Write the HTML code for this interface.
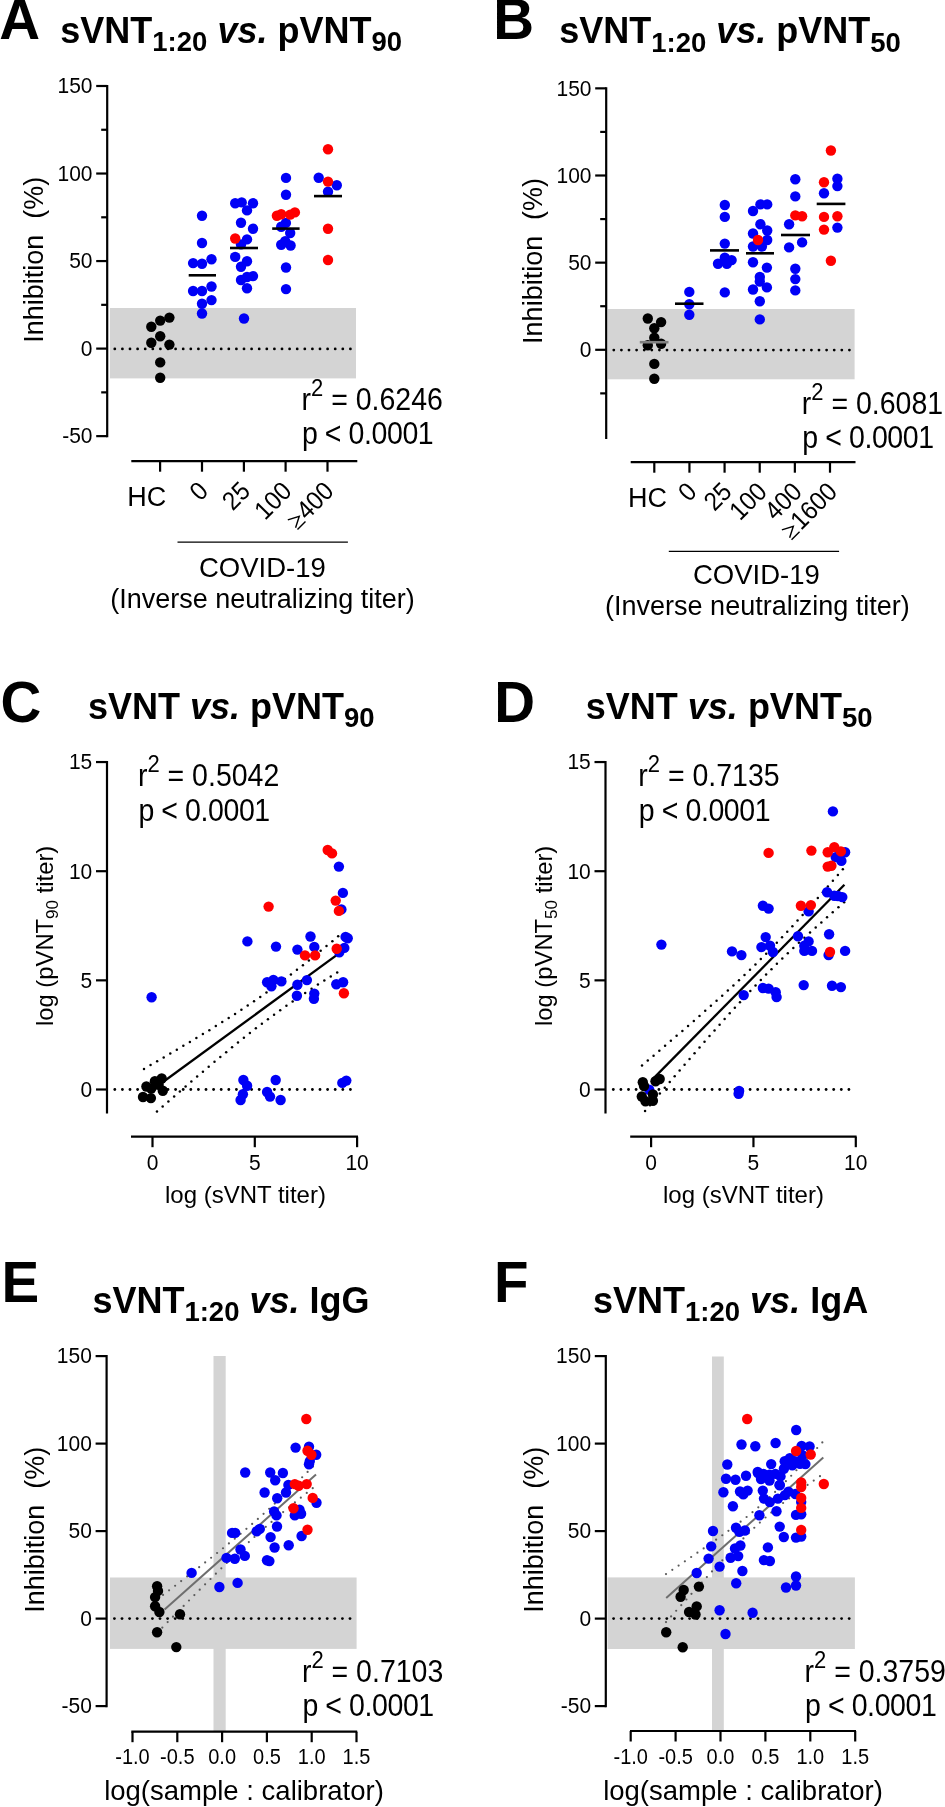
<!DOCTYPE html>
<html><head><meta charset="utf-8"><style>
html,body{margin:0;padding:0;background:#fff;}
svg{display:block;will-change:transform;}
svg text{font-family:"Liberation Sans", sans-serif;fill:#000;}
</style></head><body>
<svg width="945" height="1807" viewBox="0 0 945 1807">
<rect x="0" y="0" width="945" height="1807" fill="#fff"/>
<text x="-0.8" y="38.9" font-size="56.5" font-weight="bold" font-style="normal" text-anchor="start" >A</text>
<text x="60.3" y="43.1" font-size="36" font-weight="bold" style="white-space:pre"><tspan dy="0">sVNT</tspan><tspan font-size="27.5" dy="8.2">1:20</tspan><tspan dy="-8.2"> </tspan><tspan font-style="italic" dy="0">vs.</tspan><tspan dy="0"> pVNT</tspan><tspan font-size="27.5" dy="8.2">90</tspan></text>
<rect x="110" y="308" width="246" height="70.4" fill="#d4d4d4"/>
<g fill="#000"><circle cx="114.80" cy="348.90" r="1.4"/><circle cx="122.40" cy="348.90" r="1.4"/><circle cx="130.00" cy="348.90" r="1.4"/><circle cx="137.60" cy="348.90" r="1.4"/><circle cx="145.20" cy="348.90" r="1.4"/><circle cx="152.80" cy="348.90" r="1.4"/><circle cx="160.40" cy="348.90" r="1.4"/><circle cx="168.00" cy="348.90" r="1.4"/><circle cx="175.60" cy="348.90" r="1.4"/><circle cx="183.20" cy="348.90" r="1.4"/><circle cx="190.80" cy="348.90" r="1.4"/><circle cx="198.40" cy="348.90" r="1.4"/><circle cx="206.00" cy="348.90" r="1.4"/><circle cx="213.60" cy="348.90" r="1.4"/><circle cx="221.20" cy="348.90" r="1.4"/><circle cx="228.80" cy="348.90" r="1.4"/><circle cx="236.40" cy="348.90" r="1.4"/><circle cx="244.00" cy="348.90" r="1.4"/><circle cx="251.60" cy="348.90" r="1.4"/><circle cx="259.20" cy="348.90" r="1.4"/><circle cx="266.80" cy="348.90" r="1.4"/><circle cx="274.40" cy="348.90" r="1.4"/><circle cx="282.00" cy="348.90" r="1.4"/><circle cx="289.60" cy="348.90" r="1.4"/><circle cx="297.20" cy="348.90" r="1.4"/><circle cx="304.80" cy="348.90" r="1.4"/><circle cx="312.40" cy="348.90" r="1.4"/><circle cx="320.00" cy="348.90" r="1.4"/><circle cx="327.60" cy="348.90" r="1.4"/><circle cx="335.20" cy="348.90" r="1.4"/><circle cx="342.80" cy="348.90" r="1.4"/><circle cx="350.40" cy="348.90" r="1.4"/></g>
<line x1="107.2" y1="84.89500000000007" x2="107.2" y2="437.235" stroke="#000" stroke-width="2.2" />
<line x1="96.2" y1="85.99500000000006" x2="107.2" y2="85.99500000000006" stroke="#000" stroke-width="2.2" />
<text transform="translate(92.50,93.30) scale(1,1.08)" font-size="21" font-weight="normal" font-style="normal" text-anchor="end" >150</text>
<line x1="96.2" y1="173.53000000000003" x2="107.2" y2="173.53000000000003" stroke="#000" stroke-width="2.2" />
<text transform="translate(92.50,180.83) scale(1,1.08)" font-size="21" font-weight="normal" font-style="normal" text-anchor="end" >100</text>
<line x1="96.2" y1="261.06500000000005" x2="107.2" y2="261.06500000000005" stroke="#000" stroke-width="2.2" />
<text transform="translate(92.50,268.37) scale(1,1.08)" font-size="21" font-weight="normal" font-style="normal" text-anchor="end" >50</text>
<line x1="96.2" y1="348.6" x2="107.2" y2="348.6" stroke="#000" stroke-width="2.2" />
<text transform="translate(92.50,355.90) scale(1,1.08)" font-size="21" font-weight="normal" font-style="normal" text-anchor="end" >0</text>
<line x1="96.2" y1="436.135" x2="107.2" y2="436.135" stroke="#000" stroke-width="2.2" />
<text transform="translate(92.50,443.44) scale(1,1.08)" font-size="21" font-weight="normal" font-style="normal" text-anchor="end" >-50</text>
<line x1="101.2" y1="129.76250000000005" x2="107.2" y2="129.76250000000005" stroke="#000" stroke-width="2.2" />
<line x1="101.2" y1="217.29750000000004" x2="107.2" y2="217.29750000000004" stroke="#000" stroke-width="2.2" />
<line x1="101.2" y1="304.83250000000004" x2="107.2" y2="304.83250000000004" stroke="#000" stroke-width="2.2" />
<line x1="101.2" y1="392.3675" x2="107.2" y2="392.3675" stroke="#000" stroke-width="2.2" />
<g transform="translate(42.7,342.7) rotate(-90)">
<text x="0" y="0" font-size="27">Inhibition</text>
<text x="124" y="0" font-size="27">(%)</text>
</g>
<line x1="131.3" y1="461.2" x2="357.3" y2="461.2" stroke="#000" stroke-width="2.2" />
<line x1="160.1" y1="461.2" x2="160.1" y2="471.7" stroke="#000" stroke-width="2.2" />
<line x1="202" y1="461.2" x2="202" y2="471.7" stroke="#000" stroke-width="2.2" />
<line x1="243.9" y1="461.2" x2="243.9" y2="471.7" stroke="#000" stroke-width="2.2" />
<line x1="285.6" y1="461.2" x2="285.6" y2="471.7" stroke="#000" stroke-width="2.2" />
<line x1="327.5" y1="461.2" x2="327.5" y2="471.7" stroke="#000" stroke-width="2.2" />
<text x="127.3" y="506.4" font-size="27" font-weight="normal" font-style="normal" text-anchor="start" >HC</text>
<text transform="translate(209.7,492.6) rotate(-45) scale(1,1.08)" font-size="24" text-anchor="end">0</text>
<text transform="translate(251.6,492.6) rotate(-45) scale(1,1.08)" font-size="24" text-anchor="end">25</text>
<text transform="translate(293.3,492.6) rotate(-45) scale(1,1.08)" font-size="24" text-anchor="end">100</text>
<g transform="translate(335.2,492.6) rotate(-45)"><text transform="scale(1,1.08)" font-size="24" text-anchor="end">400</text><path d="M-52.83,-14.2 L-42.13,-8.7 L-52.83,-3.2 M-52.83,-0.5 L-41.53,-0.5" fill="none" stroke="#000" stroke-width="1.4"/></g>
<line x1="177.5" y1="542.2" x2="347.9" y2="542.2" stroke="#000" stroke-width="1.3" />
<text x="262.4" y="577.1" font-size="27.5" font-weight="normal" font-style="normal" text-anchor="middle" >COVID-19</text>
<text x="262.5" y="608.1" font-size="27" font-weight="normal" font-style="normal" text-anchor="middle" >(Inverse neutralizing titer)</text>
<text transform="translate(301.50,410.30) scale(1,1.08)" font-size="28.5" style="white-space:pre">r<tspan font-size="22" dy="-13">2</tspan><tspan dy="13"> = 0.6246</tspan></text>
<text transform="translate(301.90,443.70) scale(1,1.08)" font-size="28.5" textLength="131.8">p &lt; 0.0001</text>
<circle cx="202" cy="215.7" r="5.2" fill="#0000f6"/>
<circle cx="202" cy="243" r="5.2" fill="#0000f6"/>
<circle cx="193.1" cy="263.1" r="5.2" fill="#0000f6"/>
<circle cx="202" cy="263.7" r="5.2" fill="#0000f6"/>
<circle cx="211.5" cy="259.3" r="5.2" fill="#0000f6"/>
<circle cx="193.1" cy="291" r="5.2" fill="#0000f6"/>
<circle cx="202" cy="291" r="5.2" fill="#0000f6"/>
<circle cx="211.5" cy="286.5" r="5.2" fill="#0000f6"/>
<circle cx="202" cy="303.7" r="5.2" fill="#0000f6"/>
<circle cx="211.5" cy="300.1" r="5.2" fill="#0000f6"/>
<circle cx="202" cy="313.5" r="5.2" fill="#0000f6"/>
<circle cx="235.2" cy="203.3" r="5.2" fill="#0000f6"/>
<circle cx="241.7" cy="202.4" r="5.2" fill="#0000f6"/>
<circle cx="253" cy="203.3" r="5.2" fill="#0000f6"/>
<circle cx="247" cy="210.4" r="5.2" fill="#0000f6"/>
<circle cx="241" cy="222.8" r="5.2" fill="#0000f6"/>
<circle cx="253" cy="228.7" r="5.2" fill="#0000f6"/>
<circle cx="247" cy="239.4" r="5.2" fill="#0000f6"/>
<circle cx="241" cy="244.4" r="5.2" fill="#0000f6"/>
<circle cx="235.2" cy="256.9" r="5.2" fill="#0000f6"/>
<circle cx="247" cy="261.3" r="5.2" fill="#0000f6"/>
<circle cx="241" cy="266.7" r="5.2" fill="#0000f6"/>
<circle cx="241" cy="280" r="5.2" fill="#0000f6"/>
<circle cx="247" cy="277" r="5.2" fill="#0000f6"/>
<circle cx="253" cy="276.1" r="5.2" fill="#0000f6"/>
<circle cx="247" cy="288.3" r="5.2" fill="#0000f6"/>
<circle cx="244" cy="318.5" r="5.2" fill="#0000f6"/>
<circle cx="286" cy="177.9" r="5.2" fill="#0000f6"/>
<circle cx="286" cy="194.8" r="5.2" fill="#0000f6"/>
<circle cx="285.9" cy="222.9" r="5.2" fill="#0000f6"/>
<circle cx="281.2" cy="226.8" r="5.2" fill="#0000f6"/>
<circle cx="290.2" cy="233" r="5.2" fill="#0000f6"/>
<circle cx="285.2" cy="241.2" r="5.2" fill="#0000f6"/>
<circle cx="281.2" cy="244.8" r="5.2" fill="#0000f6"/>
<circle cx="290.6" cy="245.5" r="5.2" fill="#0000f6"/>
<circle cx="286" cy="267.5" r="5.2" fill="#0000f6"/>
<circle cx="286" cy="289.1" r="5.2" fill="#0000f6"/>
<circle cx="318.7" cy="177.8" r="5.2" fill="#0000f6"/>
<circle cx="336.8" cy="185.2" r="5.2" fill="#0000f6"/>
<circle cx="328" cy="191.7" r="5.2" fill="#0000f6"/>
<circle cx="235.2" cy="238.5" r="5.2" fill="#ff0000"/>
<circle cx="276.9" cy="215.7" r="5.2" fill="#ff0000"/>
<circle cx="281.2" cy="214.2" r="5.2" fill="#ff0000"/>
<circle cx="290.2" cy="214.6" r="5.2" fill="#ff0000"/>
<circle cx="294.9" cy="212.4" r="5.2" fill="#ff0000"/>
<circle cx="328" cy="149.3" r="5.2" fill="#ff0000"/>
<circle cx="328" cy="181.6" r="5.2" fill="#ff0000"/>
<circle cx="328" cy="228.7" r="5.2" fill="#ff0000"/>
<circle cx="328" cy="260" r="5.2" fill="#ff0000"/>
<circle cx="169.4" cy="317.6" r="5.2" fill="#000000"/>
<circle cx="160.2" cy="320.6" r="5.2" fill="#000000"/>
<circle cx="151.3" cy="326.8" r="5.2" fill="#000000"/>
<circle cx="160.2" cy="336.3" r="5.2" fill="#000000"/>
<circle cx="151.3" cy="342.8" r="5.2" fill="#000000"/>
<circle cx="169.4" cy="344.6" r="5.2" fill="#000000"/>
<circle cx="160.2" cy="362.4" r="5.2" fill="#000000"/>
<circle cx="160.2" cy="377.8" r="5.2" fill="#000000"/>
<line x1="188.7" y1="275.3" x2="216" y2="275.3" stroke="#000" stroke-width="2.6" />
<line x1="230" y1="248" x2="258" y2="248" stroke="#000" stroke-width="2.6" />
<line x1="272.2" y1="228.6" x2="299.6" y2="228.6" stroke="#000" stroke-width="2.6" />
<line x1="314" y1="196.1" x2="342" y2="196.1" stroke="#000" stroke-width="2.6" />
<text x="493.3" y="38.9" font-size="56.5" font-weight="bold" font-style="normal" text-anchor="start" >B</text>
<text x="559.2" y="43.3" font-size="36" font-weight="bold" style="white-space:pre"><tspan dy="0">sVNT</tspan><tspan font-size="27.5" dy="8.2">1:20</tspan><tspan dy="-8.2"> </tspan><tspan font-style="italic" dy="0">vs.</tspan><tspan dy="0"> pVNT</tspan><tspan font-size="27.5" dy="8.2">50</tspan></text>
<rect x="607.8" y="309" width="246.8" height="70.3" fill="#d4d4d4"/>
<g fill="#000"><circle cx="613.80" cy="350.10" r="1.4"/><circle cx="621.40" cy="350.10" r="1.4"/><circle cx="629.00" cy="350.10" r="1.4"/><circle cx="636.60" cy="350.10" r="1.4"/><circle cx="644.20" cy="350.10" r="1.4"/><circle cx="651.80" cy="350.10" r="1.4"/><circle cx="659.40" cy="350.10" r="1.4"/><circle cx="667.00" cy="350.10" r="1.4"/><circle cx="674.60" cy="350.10" r="1.4"/><circle cx="682.20" cy="350.10" r="1.4"/><circle cx="689.80" cy="350.10" r="1.4"/><circle cx="697.40" cy="350.10" r="1.4"/><circle cx="705.00" cy="350.10" r="1.4"/><circle cx="712.60" cy="350.10" r="1.4"/><circle cx="720.20" cy="350.10" r="1.4"/><circle cx="727.80" cy="350.10" r="1.4"/><circle cx="735.40" cy="350.10" r="1.4"/><circle cx="743.00" cy="350.10" r="1.4"/><circle cx="750.60" cy="350.10" r="1.4"/><circle cx="758.20" cy="350.10" r="1.4"/><circle cx="765.80" cy="350.10" r="1.4"/><circle cx="773.40" cy="350.10" r="1.4"/><circle cx="781.00" cy="350.10" r="1.4"/><circle cx="788.60" cy="350.10" r="1.4"/><circle cx="796.20" cy="350.10" r="1.4"/><circle cx="803.80" cy="350.10" r="1.4"/><circle cx="811.40" cy="350.10" r="1.4"/><circle cx="819.00" cy="350.10" r="1.4"/><circle cx="826.60" cy="350.10" r="1.4"/><circle cx="834.20" cy="350.10" r="1.4"/><circle cx="841.80" cy="350.10" r="1.4"/><circle cx="849.40" cy="350.10" r="1.4"/></g>
<line x1="606.2" y1="87.25000000000003" x2="606.2" y2="438.90000000000003" stroke="#000" stroke-width="2.2" />
<line x1="595.2" y1="88.35000000000002" x2="606.2" y2="88.35000000000002" stroke="#000" stroke-width="2.2" />
<text transform="translate(591.50,95.65) scale(1,1.08)" font-size="21" font-weight="normal" font-style="normal" text-anchor="end" >150</text>
<line x1="595.2" y1="175.5" x2="606.2" y2="175.5" stroke="#000" stroke-width="2.2" />
<text transform="translate(591.50,182.80) scale(1,1.08)" font-size="21" font-weight="normal" font-style="normal" text-anchor="end" >100</text>
<line x1="595.2" y1="262.65" x2="606.2" y2="262.65" stroke="#000" stroke-width="2.2" />
<text transform="translate(591.50,269.95) scale(1,1.08)" font-size="21" font-weight="normal" font-style="normal" text-anchor="end" >50</text>
<line x1="595.2" y1="349.8" x2="606.2" y2="349.8" stroke="#000" stroke-width="2.2" />
<text transform="translate(591.50,357.10) scale(1,1.08)" font-size="21" font-weight="normal" font-style="normal" text-anchor="end" >0</text>
<line x1="600.2" y1="131.925" x2="606.2" y2="131.925" stroke="#000" stroke-width="2.2" />
<line x1="600.2" y1="219.07500000000002" x2="606.2" y2="219.07500000000002" stroke="#000" stroke-width="2.2" />
<line x1="600.2" y1="306.225" x2="606.2" y2="306.225" stroke="#000" stroke-width="2.2" />
<line x1="600.2" y1="393.375" x2="606.2" y2="393.375" stroke="#000" stroke-width="2.2" />
<g transform="translate(541.9,343.9) rotate(-90)">
<text x="0" y="0" font-size="27">Inhibition</text>
<text x="124" y="0" font-size="27">(%)</text>
</g>
<line x1="630.7" y1="462.2" x2="855.5" y2="462.2" stroke="#000" stroke-width="2.2" />
<line x1="654.3" y1="462.2" x2="654.3" y2="472.7" stroke="#000" stroke-width="2.2" />
<line x1="689.4399999999999" y1="462.2" x2="689.4399999999999" y2="472.7" stroke="#000" stroke-width="2.2" />
<line x1="724.5799999999999" y1="462.2" x2="724.5799999999999" y2="472.7" stroke="#000" stroke-width="2.2" />
<line x1="759.7199999999999" y1="462.2" x2="759.7199999999999" y2="472.7" stroke="#000" stroke-width="2.2" />
<line x1="794.8599999999999" y1="462.2" x2="794.8599999999999" y2="472.7" stroke="#000" stroke-width="2.2" />
<line x1="830.0" y1="462.2" x2="830.0" y2="472.7" stroke="#000" stroke-width="2.2" />
<text x="627.9" y="507.1" font-size="27" font-weight="normal" font-style="normal" text-anchor="start" >HC</text>
<text transform="translate(698.14,493.2) rotate(-45) scale(1,1.08)" font-size="24" text-anchor="end">0</text>
<text transform="translate(733.28,493.2) rotate(-45) scale(1,1.08)" font-size="24" text-anchor="end">25</text>
<text transform="translate(768.42,493.2) rotate(-45) scale(1,1.08)" font-size="24" text-anchor="end">100</text>
<text transform="translate(803.56,493.2) rotate(-45) scale(1,1.08)" font-size="24" text-anchor="end">400</text>
<g transform="translate(838.7,493.2) rotate(-45)"><text transform="scale(1,1.08)" font-size="24" text-anchor="end">1600</text><path d="M-66.18,-14.2 L-55.48,-8.7 L-66.18,-3.2 M-66.18,-0.5 L-54.88,-0.5" fill="none" stroke="#000" stroke-width="1.4"/></g>
<line x1="668.8" y1="551.3" x2="839.1" y2="551.3" stroke="#000" stroke-width="1.3" />
<text x="756.4" y="584.0" font-size="27.5" font-weight="normal" font-style="normal" text-anchor="middle" >COVID-19</text>
<text x="757.4" y="615.0" font-size="27" font-weight="normal" font-style="normal" text-anchor="middle" >(Inverse neutralizing titer)</text>
<text transform="translate(801.80,413.90) scale(1,1.08)" font-size="28.5" style="white-space:pre">r<tspan font-size="22" dy="-13">2</tspan><tspan dy="13"> = 0.6081</tspan></text>
<text transform="translate(802.30,447.70) scale(1,1.08)" font-size="28.5" textLength="131.8">p &lt; 0.0001</text>
<circle cx="689.3" cy="291.9" r="5.2" fill="#0000f6"/>
<circle cx="689.3" cy="304.3" r="5.2" fill="#0000f6"/>
<circle cx="689.3" cy="314.7" r="5.2" fill="#0000f6"/>
<circle cx="724.8" cy="205" r="5.2" fill="#0000f6"/>
<circle cx="724.8" cy="216.9" r="5.2" fill="#0000f6"/>
<circle cx="724.8" cy="243.6" r="5.2" fill="#0000f6"/>
<circle cx="718" cy="263.7" r="5.2" fill="#0000f6"/>
<circle cx="724.8" cy="257.8" r="5.2" fill="#0000f6"/>
<circle cx="731.6" cy="260.1" r="5.2" fill="#0000f6"/>
<circle cx="726.9" cy="263.7" r="5.2" fill="#0000f6"/>
<circle cx="724.8" cy="292.4" r="5.2" fill="#0000f6"/>
<circle cx="760.4" cy="204.4" r="5.2" fill="#0000f6"/>
<circle cx="767.2" cy="204.4" r="5.2" fill="#0000f6"/>
<circle cx="753" cy="211" r="5.2" fill="#0000f6"/>
<circle cx="760.4" cy="224.3" r="5.2" fill="#0000f6"/>
<circle cx="767.2" cy="230.5" r="5.2" fill="#0000f6"/>
<circle cx="753" cy="233.5" r="5.2" fill="#0000f6"/>
<circle cx="767.2" cy="240" r="5.2" fill="#0000f6"/>
<circle cx="753" cy="246.5" r="5.2" fill="#0000f6"/>
<circle cx="761.9" cy="246.5" r="5.2" fill="#0000f6"/>
<circle cx="753" cy="262.2" r="5.2" fill="#0000f6"/>
<circle cx="766.9" cy="267.6" r="5.2" fill="#0000f6"/>
<circle cx="759.8" cy="277" r="5.2" fill="#0000f6"/>
<circle cx="759.8" cy="281.5" r="5.2" fill="#0000f6"/>
<circle cx="753" cy="289.5" r="5.2" fill="#0000f6"/>
<circle cx="766.9" cy="287.4" r="5.2" fill="#0000f6"/>
<circle cx="759.8" cy="301.3" r="5.2" fill="#0000f6"/>
<circle cx="759.8" cy="319.4" r="5.2" fill="#0000f6"/>
<circle cx="795.3" cy="179.3" r="5.2" fill="#0000f6"/>
<circle cx="795.3" cy="196.4" r="5.2" fill="#0000f6"/>
<circle cx="789.1" cy="224.3" r="5.2" fill="#0000f6"/>
<circle cx="802.1" cy="242.4" r="5.2" fill="#0000f6"/>
<circle cx="789.1" cy="247.4" r="5.2" fill="#0000f6"/>
<circle cx="795.3" cy="268.7" r="5.2" fill="#0000f6"/>
<circle cx="795.3" cy="279.1" r="5.2" fill="#0000f6"/>
<circle cx="795.3" cy="290.4" r="5.2" fill="#0000f6"/>
<circle cx="837.4" cy="178.7" r="5.2" fill="#0000f6"/>
<circle cx="837.4" cy="186.1" r="5.2" fill="#0000f6"/>
<circle cx="824" cy="193.2" r="5.2" fill="#0000f6"/>
<circle cx="837.4" cy="227.6" r="5.2" fill="#0000f6"/>
<circle cx="758" cy="240" r="5.2" fill="#ff0000"/>
<circle cx="795.3" cy="215.4" r="5.2" fill="#ff0000"/>
<circle cx="802.1" cy="216.3" r="5.2" fill="#ff0000"/>
<circle cx="830.9" cy="150.5" r="5.2" fill="#ff0000"/>
<circle cx="824" cy="182.2" r="5.2" fill="#ff0000"/>
<circle cx="824" cy="216.9" r="5.2" fill="#ff0000"/>
<circle cx="837.4" cy="216.3" r="5.2" fill="#ff0000"/>
<circle cx="824" cy="229.6" r="5.2" fill="#ff0000"/>
<circle cx="830.9" cy="260.7" r="5.2" fill="#ff0000"/>
<circle cx="647.8" cy="318.5" r="5.2" fill="#000000"/>
<circle cx="661.1" cy="322.1" r="5.2" fill="#000000"/>
<circle cx="654.3" cy="328.3" r="5.2" fill="#000000"/>
<circle cx="654.3" cy="337.8" r="5.2" fill="#000000"/>
<circle cx="647.8" cy="345.2" r="5.2" fill="#000000"/>
<circle cx="661.1" cy="343.7" r="5.2" fill="#000000"/>
<circle cx="654.3" cy="363.9" r="5.2" fill="#000000"/>
<circle cx="654.3" cy="378.7" r="5.2" fill="#000000"/>
<line x1="639.8" y1="342.2" x2="668.5" y2="342.2" stroke="#808080" stroke-width="2.6" />
<line x1="675" y1="303.7" x2="703.5" y2="303.7" stroke="#000" stroke-width="2.6" />
<line x1="710" y1="250.4" x2="739" y2="250.4" stroke="#000" stroke-width="2.6" />
<line x1="746" y1="253.3" x2="774" y2="253.3" stroke="#000" stroke-width="2.6" />
<line x1="781" y1="235" x2="810" y2="235" stroke="#000" stroke-width="2.6" />
<line x1="816.7" y1="203.9" x2="845.4" y2="203.9" stroke="#000" stroke-width="2.6" />
<text x="0.4" y="722.4" font-size="56.5" font-weight="bold" font-style="normal" text-anchor="start" >C</text>
<text x="88.0" y="718.8" font-size="36" font-weight="bold" style="white-space:pre"><tspan dy="0">sVNT </tspan><tspan font-style="italic" dy="0">vs.</tspan><tspan dy="0"> pVNT</tspan><tspan font-size="27.5" dy="8.2">90</tspan></text>
<line x1="107" y1="760.9499999999999" x2="107" y2="1113.5" stroke="#000" stroke-width="2.2" />
<line x1="96" y1="762.05" x2="107" y2="762.05" stroke="#000" stroke-width="2.2" />
<text transform="translate(92.30,769.35) scale(1,1.08)" font-size="21" font-weight="normal" font-style="normal" text-anchor="end" >15</text>
<line x1="96" y1="871.2" x2="107" y2="871.2" stroke="#000" stroke-width="2.2" />
<text transform="translate(92.30,878.50) scale(1,1.08)" font-size="21" font-weight="normal" font-style="normal" text-anchor="end" >10</text>
<line x1="96" y1="980.35" x2="107" y2="980.35" stroke="#000" stroke-width="2.2" />
<text transform="translate(92.30,987.65) scale(1,1.08)" font-size="21" font-weight="normal" font-style="normal" text-anchor="end" >5</text>
<line x1="96" y1="1089.5" x2="107" y2="1089.5" stroke="#000" stroke-width="2.2" />
<text transform="translate(92.30,1096.80) scale(1,1.08)" font-size="21" font-weight="normal" font-style="normal" text-anchor="end" >0</text>
<line x1="131" y1="1136.7" x2="358" y2="1136.7" stroke="#000" stroke-width="2.2" />
<line x1="152.5" y1="1136.7" x2="152.5" y2="1147.2" stroke="#000" stroke-width="2.2" />
<line x1="254.8" y1="1136.7" x2="254.8" y2="1147.2" stroke="#000" stroke-width="2.2" />
<line x1="357.1" y1="1136.7" x2="357.1" y2="1147.2" stroke="#000" stroke-width="2.2" />
<text transform="translate(152.50,1170.00) scale(1,1.08)" font-size="21" font-weight="normal" font-style="normal" text-anchor="middle" >0</text>
<text transform="translate(254.80,1170.00) scale(1,1.08)" font-size="21" font-weight="normal" font-style="normal" text-anchor="middle" >5</text>
<text transform="translate(357.10,1170.00) scale(1,1.08)" font-size="21" font-weight="normal" font-style="normal" text-anchor="middle" >10</text>
<text x="245.5" y="1202.5" font-size="24" font-weight="normal" font-style="normal" text-anchor="middle" >log (sVNT titer)</text>
<g transform="translate(53.2,1026) rotate(-90)"><text x="0" y="0" font-size="23.8">log (pVNT<tspan font-size="17" dy="5">90</tspan><tspan dy="-5"> titer)</tspan></text></g>
<g fill="#000"><circle cx="114.80" cy="1089.50" r="1.4"/><circle cx="122.40" cy="1089.50" r="1.4"/><circle cx="130.00" cy="1089.50" r="1.4"/><circle cx="137.60" cy="1089.50" r="1.4"/><circle cx="145.20" cy="1089.50" r="1.4"/><circle cx="152.80" cy="1089.50" r="1.4"/><circle cx="160.40" cy="1089.50" r="1.4"/><circle cx="168.00" cy="1089.50" r="1.4"/><circle cx="175.60" cy="1089.50" r="1.4"/><circle cx="183.20" cy="1089.50" r="1.4"/><circle cx="190.80" cy="1089.50" r="1.4"/><circle cx="198.40" cy="1089.50" r="1.4"/><circle cx="206.00" cy="1089.50" r="1.4"/><circle cx="213.60" cy="1089.50" r="1.4"/><circle cx="221.20" cy="1089.50" r="1.4"/><circle cx="228.80" cy="1089.50" r="1.4"/><circle cx="236.40" cy="1089.50" r="1.4"/><circle cx="244.00" cy="1089.50" r="1.4"/><circle cx="251.60" cy="1089.50" r="1.4"/><circle cx="259.20" cy="1089.50" r="1.4"/><circle cx="266.80" cy="1089.50" r="1.4"/><circle cx="274.40" cy="1089.50" r="1.4"/><circle cx="282.00" cy="1089.50" r="1.4"/><circle cx="289.60" cy="1089.50" r="1.4"/><circle cx="297.20" cy="1089.50" r="1.4"/><circle cx="304.80" cy="1089.50" r="1.4"/><circle cx="312.40" cy="1089.50" r="1.4"/><circle cx="320.00" cy="1089.50" r="1.4"/><circle cx="327.60" cy="1089.50" r="1.4"/><circle cx="335.20" cy="1089.50" r="1.4"/><circle cx="342.80" cy="1089.50" r="1.4"/><circle cx="350.40" cy="1089.50" r="1.4"/></g>
<text transform="translate(137.90,786.40) scale(1,1.08)" font-size="28.5" style="white-space:pre">r<tspan font-size="22" dy="-13">2</tspan><tspan dy="13"> = 0.5042</tspan></text>
<text transform="translate(138.40,820.70) scale(1,1.08)" font-size="28.5" textLength="131.8">p &lt; 0.0001</text>
<line x1="150" y1="1091.53596" x2="343.5" y2="950.1261599999999" stroke="#000" stroke-width="2.3" />
<g fill="#000"><circle cx="144.00" cy="1068.92" r="1.25"/><circle cx="150.58" cy="1065.11" r="1.25"/><circle cx="157.15" cy="1061.29" r="1.25"/><circle cx="163.71" cy="1057.46" r="1.25"/><circle cx="170.26" cy="1053.61" r="1.25"/><circle cx="176.81" cy="1049.75" r="1.25"/><circle cx="183.34" cy="1045.87" r="1.25"/><circle cx="189.86" cy="1041.97" r="1.25"/><circle cx="196.37" cy="1038.05" r="1.25"/><circle cx="202.87" cy="1034.10" r="1.25"/><circle cx="209.35" cy="1030.13" r="1.25"/><circle cx="215.81" cy="1026.12" r="1.25"/><circle cx="222.25" cy="1022.08" r="1.25"/><circle cx="228.66" cy="1018.01" r="1.25"/><circle cx="235.05" cy="1013.89" r="1.25"/><circle cx="241.40" cy="1009.72" r="1.25"/><circle cx="247.73" cy="1005.51" r="1.25"/><circle cx="254.02" cy="1001.24" r="1.25"/><circle cx="260.27" cy="996.92" r="1.25"/><circle cx="266.48" cy="992.54" r="1.25"/><circle cx="272.66" cy="988.11" r="1.25"/><circle cx="278.79" cy="983.62" r="1.25"/><circle cx="284.88" cy="979.07" r="1.25"/><circle cx="290.93" cy="974.48" r="1.25"/><circle cx="296.94" cy="969.83" r="1.25"/><circle cx="302.92" cy="965.14" r="1.25"/><circle cx="308.87" cy="960.40" r="1.25"/><circle cx="314.78" cy="955.63" r="1.25"/><circle cx="320.67" cy="950.83" r="1.25"/><circle cx="326.53" cy="945.99" r="1.25"/><circle cx="332.38" cy="941.13" r="1.25"/><circle cx="338.20" cy="936.24" r="1.25"/></g>
<g fill="#000"><circle cx="156.97" cy="1111.49" r="1.25"/><circle cx="162.68" cy="1106.48" r="1.25"/><circle cx="168.40" cy="1101.47" r="1.25"/><circle cx="174.13" cy="1096.48" r="1.25"/><circle cx="179.86" cy="1091.49" r="1.25"/><circle cx="185.60" cy="1086.51" r="1.25"/><circle cx="191.36" cy="1081.55" r="1.25"/><circle cx="197.13" cy="1076.60" r="1.25"/><circle cx="202.91" cy="1071.67" r="1.25"/><circle cx="208.70" cy="1066.75" r="1.25"/><circle cx="214.51" cy="1061.85" r="1.25"/><circle cx="220.34" cy="1056.98" r="1.25"/><circle cx="226.19" cy="1052.13" r="1.25"/><circle cx="232.07" cy="1047.30" r="1.25"/><circle cx="237.97" cy="1042.51" r="1.25"/><circle cx="243.90" cy="1037.76" r="1.25"/><circle cx="249.86" cy="1033.05" r="1.25"/><circle cx="255.85" cy="1028.37" r="1.25"/><circle cx="261.89" cy="1023.75" r="1.25"/><circle cx="267.95" cy="1019.18" r="1.25"/><circle cx="274.06" cy="1014.66" r="1.25"/><circle cx="280.21" cy="1010.19" r="1.25"/><circle cx="286.41" cy="1005.78" r="1.25"/><circle cx="292.64" cy="1001.43" r="1.25"/><circle cx="298.91" cy="997.14" r="1.25"/><circle cx="305.21" cy="992.89" r="1.25"/><circle cx="311.55" cy="988.70" r="1.25"/><circle cx="317.92" cy="984.56" r="1.25"/><circle cx="324.32" cy="980.46" r="1.25"/><circle cx="330.75" cy="976.40" r="1.25"/><circle cx="337.20" cy="972.38" r="1.25"/></g>
<circle cx="338.9" cy="866.6" r="5.2" fill="#0000f6"/>
<circle cx="342.9" cy="892.9" r="5.2" fill="#0000f6"/>
<circle cx="341.4" cy="909.4" r="5.2" fill="#0000f6"/>
<circle cx="247.4" cy="941.4" r="5.2" fill="#0000f6"/>
<circle cx="276" cy="946.6" r="5.2" fill="#0000f6"/>
<circle cx="310.5" cy="936.5" r="5.2" fill="#0000f6"/>
<circle cx="314.3" cy="946.9" r="5.2" fill="#0000f6"/>
<circle cx="297.4" cy="949.6" r="5.2" fill="#0000f6"/>
<circle cx="345.6" cy="936.9" r="5.2" fill="#0000f6"/>
<circle cx="347.7" cy="938.2" r="5.2" fill="#0000f6"/>
<circle cx="344.3" cy="947.9" r="5.2" fill="#0000f6"/>
<circle cx="339.3" cy="952.2" r="5.2" fill="#0000f6"/>
<circle cx="267.1" cy="982.3" r="5.2" fill="#0000f6"/>
<circle cx="273.4" cy="980" r="5.2" fill="#0000f6"/>
<circle cx="271.4" cy="986.3" r="5.2" fill="#0000f6"/>
<circle cx="281.4" cy="981.4" r="5.2" fill="#0000f6"/>
<circle cx="297.4" cy="984.8" r="5.2" fill="#0000f6"/>
<circle cx="306.9" cy="980.1" r="5.2" fill="#0000f6"/>
<circle cx="336.3" cy="984.3" r="5.2" fill="#0000f6"/>
<circle cx="343.1" cy="982.2" r="5.2" fill="#0000f6"/>
<circle cx="296.9" cy="995.8" r="5.2" fill="#0000f6"/>
<circle cx="314.3" cy="993.6" r="5.2" fill="#0000f6"/>
<circle cx="313.9" cy="998.7" r="5.2" fill="#0000f6"/>
<circle cx="151.6" cy="997.3" r="5.2" fill="#0000f6"/>
<circle cx="243.4" cy="1080" r="5.2" fill="#0000f6"/>
<circle cx="247.1" cy="1085.7" r="5.2" fill="#0000f6"/>
<circle cx="242.9" cy="1094.3" r="5.2" fill="#0000f6"/>
<circle cx="240.6" cy="1100" r="5.2" fill="#0000f6"/>
<circle cx="275.7" cy="1080" r="5.2" fill="#0000f6"/>
<circle cx="267.1" cy="1092" r="5.2" fill="#0000f6"/>
<circle cx="270" cy="1096.6" r="5.2" fill="#0000f6"/>
<circle cx="280.6" cy="1100" r="5.2" fill="#0000f6"/>
<circle cx="342.3" cy="1082.9" r="5.2" fill="#0000f6"/>
<circle cx="346.3" cy="1080.6" r="5.2" fill="#0000f6"/>
<circle cx="327.7" cy="850" r="5.2" fill="#ff0000"/>
<circle cx="332" cy="853.4" r="5.2" fill="#ff0000"/>
<circle cx="335.7" cy="900.6" r="5.2" fill="#ff0000"/>
<circle cx="338.9" cy="910.9" r="5.2" fill="#ff0000"/>
<circle cx="268.6" cy="906.6" r="5.2" fill="#ff0000"/>
<circle cx="305" cy="955.4" r="5.2" fill="#ff0000"/>
<circle cx="315.1" cy="955.4" r="5.2" fill="#ff0000"/>
<circle cx="336.7" cy="948.8" r="5.2" fill="#ff0000"/>
<circle cx="343.9" cy="993.2" r="5.2" fill="#ff0000"/>
<circle cx="161.7" cy="1078.5" r="5.2" fill="#000000"/>
<circle cx="154.9" cy="1081.2" r="5.2" fill="#000000"/>
<circle cx="146.4" cy="1086.5" r="5.2" fill="#000000"/>
<circle cx="162.8" cy="1090.7" r="5.2" fill="#000000"/>
<circle cx="151.2" cy="1088.6" r="5.2" fill="#000000"/>
<circle cx="143" cy="1097" r="5.2" fill="#000000"/>
<circle cx="150.9" cy="1098.1" r="5.2" fill="#000000"/>
<circle cx="158.6" cy="1084.9" r="5.2" fill="#000000"/>
<text x="494.2" y="722.1" font-size="56.5" font-weight="bold" font-style="normal" text-anchor="start" >D</text>
<text x="585.8" y="718.8" font-size="36" font-weight="bold" style="white-space:pre"><tspan dy="0">sVNT </tspan><tspan font-style="italic" dy="0">vs.</tspan><tspan dy="0"> pVNT</tspan><tspan font-size="27.5" dy="8.2">50</tspan></text>
<line x1="605.5" y1="760.9499999999999" x2="605.5" y2="1113.5" stroke="#000" stroke-width="2.2" />
<line x1="594.5" y1="762.05" x2="605.5" y2="762.05" stroke="#000" stroke-width="2.2" />
<text transform="translate(590.80,769.35) scale(1,1.08)" font-size="21" font-weight="normal" font-style="normal" text-anchor="end" >15</text>
<line x1="594.5" y1="871.2" x2="605.5" y2="871.2" stroke="#000" stroke-width="2.2" />
<text transform="translate(590.80,878.50) scale(1,1.08)" font-size="21" font-weight="normal" font-style="normal" text-anchor="end" >10</text>
<line x1="594.5" y1="980.35" x2="605.5" y2="980.35" stroke="#000" stroke-width="2.2" />
<text transform="translate(590.80,987.65) scale(1,1.08)" font-size="21" font-weight="normal" font-style="normal" text-anchor="end" >5</text>
<line x1="594.5" y1="1089.5" x2="605.5" y2="1089.5" stroke="#000" stroke-width="2.2" />
<text transform="translate(590.80,1096.80) scale(1,1.08)" font-size="21" font-weight="normal" font-style="normal" text-anchor="end" >0</text>
<line x1="630.2" y1="1136.7" x2="856.6" y2="1136.7" stroke="#000" stroke-width="2.2" />
<line x1="651.1" y1="1136.7" x2="651.1" y2="1147.2" stroke="#000" stroke-width="2.2" />
<line x1="753.45" y1="1136.7" x2="753.45" y2="1147.2" stroke="#000" stroke-width="2.2" />
<line x1="855.8" y1="1136.7" x2="855.8" y2="1147.2" stroke="#000" stroke-width="2.2" />
<text transform="translate(651.10,1170.00) scale(1,1.08)" font-size="21" font-weight="normal" font-style="normal" text-anchor="middle" >0</text>
<text transform="translate(753.45,1170.00) scale(1,1.08)" font-size="21" font-weight="normal" font-style="normal" text-anchor="middle" >5</text>
<text transform="translate(855.80,1170.00) scale(1,1.08)" font-size="21" font-weight="normal" font-style="normal" text-anchor="middle" >10</text>
<text x="743.5" y="1202.5" font-size="24" font-weight="normal" font-style="normal" text-anchor="middle" >log (sVNT titer)</text>
<g transform="translate(551.6,1026) rotate(-90)"><text x="0" y="0" font-size="23.8">log (pVNT<tspan font-size="17" dy="5">50</tspan><tspan dy="-5"> titer)</tspan></text></g>
<g fill="#000"><circle cx="613.30" cy="1089.50" r="1.4"/><circle cx="620.90" cy="1089.50" r="1.4"/><circle cx="628.50" cy="1089.50" r="1.4"/><circle cx="636.10" cy="1089.50" r="1.4"/><circle cx="643.70" cy="1089.50" r="1.4"/><circle cx="651.30" cy="1089.50" r="1.4"/><circle cx="658.90" cy="1089.50" r="1.4"/><circle cx="666.50" cy="1089.50" r="1.4"/><circle cx="674.10" cy="1089.50" r="1.4"/><circle cx="681.70" cy="1089.50" r="1.4"/><circle cx="689.30" cy="1089.50" r="1.4"/><circle cx="696.90" cy="1089.50" r="1.4"/><circle cx="704.50" cy="1089.50" r="1.4"/><circle cx="712.10" cy="1089.50" r="1.4"/><circle cx="719.70" cy="1089.50" r="1.4"/><circle cx="727.30" cy="1089.50" r="1.4"/><circle cx="734.90" cy="1089.50" r="1.4"/><circle cx="742.50" cy="1089.50" r="1.4"/><circle cx="750.10" cy="1089.50" r="1.4"/><circle cx="757.70" cy="1089.50" r="1.4"/><circle cx="765.30" cy="1089.50" r="1.4"/><circle cx="772.90" cy="1089.50" r="1.4"/><circle cx="780.50" cy="1089.50" r="1.4"/><circle cx="788.10" cy="1089.50" r="1.4"/><circle cx="795.70" cy="1089.50" r="1.4"/><circle cx="803.30" cy="1089.50" r="1.4"/><circle cx="810.90" cy="1089.50" r="1.4"/><circle cx="818.50" cy="1089.50" r="1.4"/><circle cx="826.10" cy="1089.50" r="1.4"/><circle cx="833.70" cy="1089.50" r="1.4"/><circle cx="841.30" cy="1089.50" r="1.4"/><circle cx="848.90" cy="1089.50" r="1.4"/></g>
<text transform="translate(638.30,786.40) scale(1,1.08)" font-size="28.5" style="white-space:pre">r<tspan font-size="22" dy="-13">2</tspan><tspan dy="13"> = 0.7135</tspan></text>
<text transform="translate(638.80,820.70) scale(1,1.08)" font-size="28.5" textLength="131.8">p &lt; 0.0001</text>
<line x1="652" y1="1079.892" x2="844.4" y2="884.7984" stroke="#000" stroke-width="2.3" />
<g fill="#000"><circle cx="642.00" cy="1065.55" r="1.25"/><circle cx="647.78" cy="1060.62" r="1.25"/><circle cx="653.56" cy="1055.68" r="1.25"/><circle cx="659.33" cy="1050.73" r="1.25"/><circle cx="665.09" cy="1045.78" r="1.25"/><circle cx="670.85" cy="1040.82" r="1.25"/><circle cx="676.60" cy="1035.85" r="1.25"/><circle cx="682.35" cy="1030.88" r="1.25"/><circle cx="688.08" cy="1025.89" r="1.25"/><circle cx="693.81" cy="1020.89" r="1.25"/><circle cx="699.52" cy="1015.88" r="1.25"/><circle cx="705.22" cy="1010.85" r="1.25"/><circle cx="710.90" cy="1005.80" r="1.25"/><circle cx="716.56" cy="1000.73" r="1.25"/><circle cx="722.21" cy="995.64" r="1.25"/><circle cx="727.83" cy="990.52" r="1.25"/><circle cx="733.42" cy="985.38" r="1.25"/><circle cx="738.98" cy="980.20" r="1.25"/><circle cx="744.50" cy="974.98" r="1.25"/><circle cx="749.99" cy="969.72" r="1.25"/><circle cx="755.44" cy="964.42" r="1.25"/><circle cx="760.84" cy="959.08" r="1.25"/><circle cx="766.21" cy="953.69" r="1.25"/><circle cx="771.53" cy="948.27" r="1.25"/><circle cx="776.80" cy="942.80" r="1.25"/><circle cx="782.04" cy="937.29" r="1.25"/><circle cx="787.24" cy="931.75" r="1.25"/><circle cx="792.40" cy="926.17" r="1.25"/><circle cx="797.54" cy="920.57" r="1.25"/><circle cx="802.65" cy="914.94" r="1.25"/><circle cx="807.73" cy="909.29" r="1.25"/><circle cx="812.79" cy="903.62" r="1.25"/><circle cx="817.83" cy="897.93" r="1.25"/><circle cx="822.86" cy="892.23" r="1.25"/><circle cx="827.87" cy="886.52" r="1.25"/><circle cx="832.87" cy="880.79" r="1.25"/><circle cx="837.86" cy="875.06" r="1.25"/><circle cx="842.84" cy="869.32" r="1.25"/></g>
<g fill="#000"><circle cx="645.04" cy="1110.94" r="1.25"/><circle cx="649.97" cy="1105.15" r="1.25"/><circle cx="654.91" cy="1099.37" r="1.25"/><circle cx="659.84" cy="1093.59" r="1.25"/><circle cx="664.78" cy="1087.82" r="1.25"/><circle cx="669.73" cy="1082.05" r="1.25"/><circle cx="674.68" cy="1076.28" r="1.25"/><circle cx="679.63" cy="1070.52" r="1.25"/><circle cx="684.59" cy="1064.76" r="1.25"/><circle cx="689.56" cy="1059.01" r="1.25"/><circle cx="694.54" cy="1053.26" r="1.25"/><circle cx="699.53" cy="1047.53" r="1.25"/><circle cx="704.52" cy="1041.80" r="1.25"/><circle cx="709.53" cy="1036.09" r="1.25"/><circle cx="714.56" cy="1030.38" r="1.25"/><circle cx="719.60" cy="1024.70" r="1.25"/><circle cx="724.65" cy="1019.02" r="1.25"/><circle cx="729.73" cy="1013.37" r="1.25"/><circle cx="734.83" cy="1007.74" r="1.25"/><circle cx="739.96" cy="1002.13" r="1.25"/><circle cx="745.12" cy="996.55" r="1.25"/><circle cx="750.31" cy="991.00" r="1.25"/><circle cx="755.54" cy="985.48" r="1.25"/><circle cx="760.81" cy="980.00" r="1.25"/><circle cx="766.12" cy="974.57" r="1.25"/><circle cx="771.47" cy="969.17" r="1.25"/><circle cx="776.87" cy="963.82" r="1.25"/><circle cx="782.31" cy="958.51" r="1.25"/><circle cx="787.79" cy="953.25" r="1.25"/><circle cx="793.31" cy="948.02" r="1.25"/><circle cx="798.86" cy="942.83" r="1.25"/><circle cx="804.45" cy="937.68" r="1.25"/><circle cx="810.06" cy="932.56" r="1.25"/><circle cx="815.70" cy="927.46" r="1.25"/><circle cx="821.36" cy="922.39" r="1.25"/><circle cx="827.04" cy="917.34" r="1.25"/><circle cx="832.73" cy="912.31" r="1.25"/><circle cx="838.44" cy="907.29" r="1.25"/><circle cx="844.17" cy="902.29" r="1.25"/></g>
<circle cx="832.9" cy="811.4" r="5.2" fill="#0000f6"/>
<circle cx="845.1" cy="852.3" r="5.2" fill="#0000f6"/>
<circle cx="835.7" cy="857.1" r="5.2" fill="#0000f6"/>
<circle cx="841.4" cy="860.9" r="5.2" fill="#0000f6"/>
<circle cx="827.1" cy="892.3" r="5.2" fill="#0000f6"/>
<circle cx="834.3" cy="895.7" r="5.2" fill="#0000f6"/>
<circle cx="842.3" cy="897.1" r="5.2" fill="#0000f6"/>
<circle cx="838" cy="896" r="5.2" fill="#0000f6"/>
<circle cx="762.9" cy="905.7" r="5.2" fill="#0000f6"/>
<circle cx="768.6" cy="908.6" r="5.2" fill="#0000f6"/>
<circle cx="808.6" cy="911.4" r="5.2" fill="#0000f6"/>
<circle cx="661.4" cy="944.6" r="5.2" fill="#0000f6"/>
<circle cx="765.7" cy="937.1" r="5.2" fill="#0000f6"/>
<circle cx="761.4" cy="947.1" r="5.2" fill="#0000f6"/>
<circle cx="770" cy="945.7" r="5.2" fill="#0000f6"/>
<circle cx="772.9" cy="952" r="5.2" fill="#0000f6"/>
<circle cx="732" cy="951.4" r="5.2" fill="#0000f6"/>
<circle cx="741.4" cy="955.1" r="5.2" fill="#0000f6"/>
<circle cx="798" cy="936.3" r="5.2" fill="#0000f6"/>
<circle cx="804.3" cy="945.7" r="5.2" fill="#0000f6"/>
<circle cx="808.6" cy="941.4" r="5.2" fill="#0000f6"/>
<circle cx="804.3" cy="950.9" r="5.2" fill="#0000f6"/>
<circle cx="812" cy="950.9" r="5.2" fill="#0000f6"/>
<circle cx="829.1" cy="934.3" r="5.2" fill="#0000f6"/>
<circle cx="828.6" cy="955.1" r="5.2" fill="#0000f6"/>
<circle cx="845.1" cy="950.9" r="5.2" fill="#0000f6"/>
<circle cx="803.7" cy="985.1" r="5.2" fill="#0000f6"/>
<circle cx="832" cy="985.7" r="5.2" fill="#0000f6"/>
<circle cx="840.9" cy="987.1" r="5.2" fill="#0000f6"/>
<circle cx="762.9" cy="988" r="5.2" fill="#0000f6"/>
<circle cx="768.6" cy="988.6" r="5.2" fill="#0000f6"/>
<circle cx="775.7" cy="992.3" r="5.2" fill="#0000f6"/>
<circle cx="776.6" cy="997.1" r="5.2" fill="#0000f6"/>
<circle cx="743.7" cy="995.1" r="5.2" fill="#0000f6"/>
<circle cx="739.1" cy="1090.9" r="5.2" fill="#0000f6"/>
<circle cx="738.6" cy="1093.7" r="5.2" fill="#0000f6"/>
<circle cx="649.2" cy="1089.6" r="5.2" fill="#0000f6"/>
<circle cx="768.6" cy="852.9" r="5.2" fill="#ff0000"/>
<circle cx="811.4" cy="850.6" r="5.2" fill="#ff0000"/>
<circle cx="827.7" cy="852.3" r="5.2" fill="#ff0000"/>
<circle cx="834.3" cy="847.1" r="5.2" fill="#ff0000"/>
<circle cx="840.9" cy="851.4" r="5.2" fill="#ff0000"/>
<circle cx="827.7" cy="866.6" r="5.2" fill="#ff0000"/>
<circle cx="831.4" cy="865.7" r="5.2" fill="#ff0000"/>
<circle cx="800.9" cy="905.7" r="5.2" fill="#ff0000"/>
<circle cx="810.9" cy="905.1" r="5.2" fill="#ff0000"/>
<circle cx="830" cy="952" r="5.2" fill="#ff0000"/>
<circle cx="642.8" cy="1082.2" r="5.2" fill="#000000"/>
<circle cx="655.5" cy="1081.2" r="5.2" fill="#000000"/>
<circle cx="659.7" cy="1079" r="5.2" fill="#000000"/>
<circle cx="641.8" cy="1096.5" r="5.2" fill="#000000"/>
<circle cx="652.9" cy="1094.4" r="5.2" fill="#000000"/>
<circle cx="645.5" cy="1101.3" r="5.2" fill="#000000"/>
<circle cx="652.9" cy="1100.7" r="5.2" fill="#000000"/>
<circle cx="644" cy="1086" r="5.2" fill="#000000"/>
<text x="1.6" y="1301.6" font-size="56.5" font-weight="bold" font-style="normal" text-anchor="start" >E</text>
<text x="92.4" y="1312.9" font-size="36" font-weight="bold" style="white-space:pre"><tspan dy="0">sVNT</tspan><tspan font-size="27.5" dy="8.2">1:20</tspan><tspan dy="-8.2"> </tspan><tspan font-style="italic" dy="0">vs.</tspan><tspan dy="0"> IgG</tspan></text>
<rect x="213.5" y="1356" width="12.2" height="376" fill="#d4d4d4"/>
<rect x="110" y="1577.5" width="246.6" height="71.4" fill="#d4d4d4"/>
<g fill="#000"><circle cx="114.40" cy="1618.60" r="1.4"/><circle cx="122.00" cy="1618.60" r="1.4"/><circle cx="129.60" cy="1618.60" r="1.4"/><circle cx="137.20" cy="1618.60" r="1.4"/><circle cx="144.80" cy="1618.60" r="1.4"/><circle cx="152.40" cy="1618.60" r="1.4"/><circle cx="160.00" cy="1618.60" r="1.4"/><circle cx="167.60" cy="1618.60" r="1.4"/><circle cx="175.20" cy="1618.60" r="1.4"/><circle cx="182.80" cy="1618.60" r="1.4"/><circle cx="190.40" cy="1618.60" r="1.4"/><circle cx="198.00" cy="1618.60" r="1.4"/><circle cx="205.60" cy="1618.60" r="1.4"/><circle cx="213.20" cy="1618.60" r="1.4"/><circle cx="220.80" cy="1618.60" r="1.4"/><circle cx="228.40" cy="1618.60" r="1.4"/><circle cx="236.00" cy="1618.60" r="1.4"/><circle cx="243.60" cy="1618.60" r="1.4"/><circle cx="251.20" cy="1618.60" r="1.4"/><circle cx="258.80" cy="1618.60" r="1.4"/><circle cx="266.40" cy="1618.60" r="1.4"/><circle cx="274.00" cy="1618.60" r="1.4"/><circle cx="281.60" cy="1618.60" r="1.4"/><circle cx="289.20" cy="1618.60" r="1.4"/><circle cx="296.80" cy="1618.60" r="1.4"/><circle cx="304.40" cy="1618.60" r="1.4"/><circle cx="312.00" cy="1618.60" r="1.4"/><circle cx="319.60" cy="1618.60" r="1.4"/><circle cx="327.20" cy="1618.60" r="1.4"/><circle cx="334.80" cy="1618.60" r="1.4"/><circle cx="342.40" cy="1618.60" r="1.4"/><circle cx="350.00" cy="1618.60" r="1.4"/></g>
<line x1="106.6" y1="1355.0" x2="106.6" y2="1707.1999999999998" stroke="#000" stroke-width="2.2" />
<line x1="95.6" y1="1356.1" x2="106.6" y2="1356.1" stroke="#000" stroke-width="2.2" />
<text transform="translate(91.90,1363.40) scale(1,1.08)" font-size="21" font-weight="normal" font-style="normal" text-anchor="end" >150</text>
<line x1="95.6" y1="1443.6" x2="106.6" y2="1443.6" stroke="#000" stroke-width="2.2" />
<text transform="translate(91.90,1450.90) scale(1,1.08)" font-size="21" font-weight="normal" font-style="normal" text-anchor="end" >100</text>
<line x1="95.6" y1="1531.1" x2="106.6" y2="1531.1" stroke="#000" stroke-width="2.2" />
<text transform="translate(91.90,1538.40) scale(1,1.08)" font-size="21" font-weight="normal" font-style="normal" text-anchor="end" >50</text>
<line x1="95.6" y1="1618.6" x2="106.6" y2="1618.6" stroke="#000" stroke-width="2.2" />
<text transform="translate(91.90,1625.90) scale(1,1.08)" font-size="21" font-weight="normal" font-style="normal" text-anchor="end" >0</text>
<line x1="95.6" y1="1706.1" x2="106.6" y2="1706.1" stroke="#000" stroke-width="2.2" />
<text transform="translate(91.90,1713.40) scale(1,1.08)" font-size="21" font-weight="normal" font-style="normal" text-anchor="end" >-50</text>
<g transform="translate(44.2,1612.7) rotate(-90)">
<text x="0" y="0" font-size="27">Inhibition</text>
<text x="124" y="0" font-size="27">(%)</text>
</g>
<line x1="131.3" y1="1731.7" x2="357.2" y2="1731.7" stroke="#000" stroke-width="2.2" />
<line x1="132.5" y1="1731.7" x2="132.5" y2="1742.2" stroke="#000" stroke-width="2.2" />
<line x1="177.3" y1="1731.7" x2="177.3" y2="1742.2" stroke="#000" stroke-width="2.2" />
<line x1="222.1" y1="1731.7" x2="222.1" y2="1742.2" stroke="#000" stroke-width="2.2" />
<line x1="266.9" y1="1731.7" x2="266.9" y2="1742.2" stroke="#000" stroke-width="2.2" />
<line x1="311.7" y1="1731.7" x2="311.7" y2="1742.2" stroke="#000" stroke-width="2.2" />
<line x1="356.5" y1="1731.7" x2="356.5" y2="1742.2" stroke="#000" stroke-width="2.2" />
<text transform="translate(132.50,1763.50) scale(1,1.08)" font-size="20" font-weight="normal" font-style="normal" text-anchor="middle" >-1.0</text>
<text transform="translate(177.30,1763.50) scale(1,1.08)" font-size="20" font-weight="normal" font-style="normal" text-anchor="middle" >-0.5</text>
<text transform="translate(222.10,1763.50) scale(1,1.08)" font-size="20" font-weight="normal" font-style="normal" text-anchor="middle" >0.0</text>
<text transform="translate(266.90,1763.50) scale(1,1.08)" font-size="20" font-weight="normal" font-style="normal" text-anchor="middle" >0.5</text>
<text transform="translate(311.70,1763.50) scale(1,1.08)" font-size="20" font-weight="normal" font-style="normal" text-anchor="middle" >1.0</text>
<text transform="translate(356.50,1763.50) scale(1,1.08)" font-size="20" font-weight="normal" font-style="normal" text-anchor="middle" >1.5</text>
<text x="244" y="1800.1" font-size="27.5" font-weight="normal" font-style="normal" text-anchor="middle" >log(sample : calibrator)</text>
<text transform="translate(301.90,1681.90) scale(1,1.08)" font-size="28.5" style="white-space:pre">r<tspan font-size="22" dy="-13">2</tspan><tspan dy="13"> = 0.7103</tspan></text>
<text transform="translate(302.40,1716.10) scale(1,1.08)" font-size="28.5" textLength="131.8">p &lt; 0.0001</text>
<line x1="164.6" y1="1609.5" x2="316" y2="1474.6026" stroke="#6e6e6e" stroke-width="2.0" />
<g fill="#5a5a5a"><circle cx="157.00" cy="1599.57" r="1.1"/><circle cx="163.04" cy="1594.97" r="1.1"/><circle cx="169.08" cy="1590.35" r="1.1"/><circle cx="175.12" cy="1585.73" r="1.1"/><circle cx="181.14" cy="1581.10" r="1.1"/><circle cx="187.16" cy="1576.46" r="1.1"/><circle cx="193.17" cy="1571.81" r="1.1"/><circle cx="199.17" cy="1567.14" r="1.1"/><circle cx="205.15" cy="1562.45" r="1.1"/><circle cx="211.12" cy="1557.75" r="1.1"/><circle cx="217.07" cy="1553.02" r="1.1"/><circle cx="223.00" cy="1548.26" r="1.1"/><circle cx="228.90" cy="1543.47" r="1.1"/><circle cx="234.77" cy="1538.65" r="1.1"/><circle cx="240.61" cy="1533.78" r="1.1"/><circle cx="246.41" cy="1528.87" r="1.1"/><circle cx="252.17" cy="1523.91" r="1.1"/><circle cx="257.88" cy="1518.90" r="1.1"/><circle cx="263.55" cy="1513.84" r="1.1"/><circle cx="269.17" cy="1508.73" r="1.1"/><circle cx="274.76" cy="1503.57" r="1.1"/><circle cx="280.30" cy="1498.37" r="1.1"/><circle cx="285.81" cy="1493.14" r="1.1"/><circle cx="291.29" cy="1487.87" r="1.1"/><circle cx="296.74" cy="1482.58" r="1.1"/><circle cx="302.17" cy="1477.26" r="1.1"/><circle cx="307.59" cy="1471.92" r="1.1"/><circle cx="312.98" cy="1466.57" r="1.1"/></g>
<g fill="#5a5a5a"><circle cx="157.00" cy="1632.97" r="1.1"/><circle cx="162.32" cy="1627.54" r="1.1"/><circle cx="167.65" cy="1622.12" r="1.1"/><circle cx="172.98" cy="1616.70" r="1.1"/><circle cx="178.31" cy="1611.29" r="1.1"/><circle cx="183.65" cy="1605.88" r="1.1"/><circle cx="189.00" cy="1600.48" r="1.1"/><circle cx="194.36" cy="1595.09" r="1.1"/><circle cx="199.72" cy="1589.71" r="1.1"/><circle cx="205.10" cy="1584.34" r="1.1"/><circle cx="210.49" cy="1578.98" r="1.1"/><circle cx="215.89" cy="1573.64" r="1.1"/><circle cx="221.32" cy="1568.31" r="1.1"/><circle cx="226.76" cy="1563.01" r="1.1"/><circle cx="232.23" cy="1557.74" r="1.1"/><circle cx="237.73" cy="1552.49" r="1.1"/><circle cx="243.26" cy="1547.28" r="1.1"/><circle cx="248.83" cy="1542.11" r="1.1"/><circle cx="254.44" cy="1536.98" r="1.1"/><circle cx="260.09" cy="1531.90" r="1.1"/><circle cx="265.79" cy="1526.87" r="1.1"/><circle cx="271.53" cy="1521.89" r="1.1"/><circle cx="277.32" cy="1516.96" r="1.1"/><circle cx="283.14" cy="1512.08" r="1.1"/><circle cx="289.00" cy="1507.24" r="1.1"/><circle cx="294.90" cy="1502.44" r="1.1"/><circle cx="300.81" cy="1497.67" r="1.1"/><circle cx="306.76" cy="1492.93" r="1.1"/><circle cx="312.72" cy="1488.22" r="1.1"/></g>
<circle cx="295.6" cy="1447.6" r="5.2" fill="#0000f6"/>
<circle cx="309" cy="1446.8" r="5.2" fill="#0000f6"/>
<circle cx="316.2" cy="1454.8" r="5.2" fill="#0000f6"/>
<circle cx="309.8" cy="1461.1" r="5.2" fill="#0000f6"/>
<circle cx="309" cy="1464.3" r="5.2" fill="#0000f6"/>
<circle cx="245.2" cy="1472.5" r="5.2" fill="#0000f6"/>
<circle cx="270.2" cy="1472.5" r="5.2" fill="#0000f6"/>
<circle cx="282.9" cy="1473" r="5.2" fill="#0000f6"/>
<circle cx="275.2" cy="1480.2" r="5.2" fill="#0000f6"/>
<circle cx="288.4" cy="1484.9" r="5.2" fill="#0000f6"/>
<circle cx="264.6" cy="1492.5" r="5.2" fill="#0000f6"/>
<circle cx="286" cy="1492.5" r="5.2" fill="#0000f6"/>
<circle cx="277.2" cy="1498.2" r="5.2" fill="#0000f6"/>
<circle cx="316.5" cy="1502.7" r="5.2" fill="#0000f6"/>
<circle cx="299.5" cy="1509.8" r="5.2" fill="#0000f6"/>
<circle cx="301.1" cy="1513.8" r="5.2" fill="#0000f6"/>
<circle cx="294.8" cy="1515.4" r="5.2" fill="#0000f6"/>
<circle cx="274.1" cy="1511.4" r="5.2" fill="#0000f6"/>
<circle cx="276.5" cy="1515.4" r="5.2" fill="#0000f6"/>
<circle cx="277" cy="1526.5" r="5.2" fill="#0000f6"/>
<circle cx="301.6" cy="1536" r="5.2" fill="#0000f6"/>
<circle cx="256.7" cy="1531.3" r="5.2" fill="#0000f6"/>
<circle cx="259.8" cy="1528.9" r="5.2" fill="#0000f6"/>
<circle cx="232.1" cy="1532.9" r="5.2" fill="#0000f6"/>
<circle cx="235.2" cy="1532.9" r="5.2" fill="#0000f6"/>
<circle cx="270.6" cy="1537.1" r="5.2" fill="#0000f6"/>
<circle cx="274.6" cy="1547.5" r="5.2" fill="#0000f6"/>
<circle cx="288.7" cy="1545.2" r="5.2" fill="#0000f6"/>
<circle cx="240.5" cy="1549.5" r="5.2" fill="#0000f6"/>
<circle cx="244.8" cy="1555.9" r="5.2" fill="#0000f6"/>
<circle cx="226.5" cy="1557.9" r="5.2" fill="#0000f6"/>
<circle cx="234.8" cy="1558.7" r="5.2" fill="#0000f6"/>
<circle cx="267" cy="1560.3" r="5.2" fill="#0000f6"/>
<circle cx="269.4" cy="1561.1" r="5.2" fill="#0000f6"/>
<circle cx="191.6" cy="1572.9" r="5.2" fill="#0000f6"/>
<circle cx="237.6" cy="1582.9" r="5.2" fill="#0000f6"/>
<circle cx="219.4" cy="1587" r="5.2" fill="#0000f6"/>
<circle cx="306.3" cy="1419" r="5.2" fill="#ff0000"/>
<circle cx="307.5" cy="1450.8" r="5.2" fill="#ff0000"/>
<circle cx="311.4" cy="1454.8" r="5.2" fill="#ff0000"/>
<circle cx="294.8" cy="1484.1" r="5.2" fill="#ff0000"/>
<circle cx="298.7" cy="1485.7" r="5.2" fill="#ff0000"/>
<circle cx="306.7" cy="1484.1" r="5.2" fill="#ff0000"/>
<circle cx="312.7" cy="1497.9" r="5.2" fill="#ff0000"/>
<circle cx="293.5" cy="1508.3" r="5.2" fill="#ff0000"/>
<circle cx="307.5" cy="1529.7" r="5.2" fill="#ff0000"/>
<circle cx="157.1" cy="1586.3" r="5.2" fill="#000000"/>
<circle cx="158" cy="1590.9" r="5.2" fill="#000000"/>
<circle cx="155.1" cy="1597.1" r="5.2" fill="#000000"/>
<circle cx="155.1" cy="1606.3" r="5.2" fill="#000000"/>
<circle cx="159.4" cy="1612" r="5.2" fill="#000000"/>
<circle cx="180" cy="1614.3" r="5.2" fill="#000000"/>
<circle cx="157.1" cy="1632.3" r="5.2" fill="#000000"/>
<circle cx="176.3" cy="1647.1" r="5.2" fill="#000000"/>
<text x="494.0" y="1301.6" font-size="56.5" font-weight="bold" font-style="normal" text-anchor="start" >F</text>
<text x="593.0" y="1312.9" font-size="36" font-weight="bold" style="white-space:pre"><tspan dy="0">sVNT</tspan><tspan font-size="27.5" dy="8.2">1:20</tspan><tspan dy="-8.2"> </tspan><tspan font-style="italic" dy="0">vs.</tspan><tspan dy="0"> IgA</tspan></text>
<rect x="712" y="1356.5" width="11.8" height="375" fill="#d4d4d4"/>
<rect x="607.5" y="1577.4" width="247.4" height="71.6" fill="#d4d4d4"/>
<g fill="#000"><circle cx="613.60" cy="1618.60" r="1.4"/><circle cx="621.20" cy="1618.60" r="1.4"/><circle cx="628.80" cy="1618.60" r="1.4"/><circle cx="636.40" cy="1618.60" r="1.4"/><circle cx="644.00" cy="1618.60" r="1.4"/><circle cx="651.60" cy="1618.60" r="1.4"/><circle cx="659.20" cy="1618.60" r="1.4"/><circle cx="666.80" cy="1618.60" r="1.4"/><circle cx="674.40" cy="1618.60" r="1.4"/><circle cx="682.00" cy="1618.60" r="1.4"/><circle cx="689.60" cy="1618.60" r="1.4"/><circle cx="697.20" cy="1618.60" r="1.4"/><circle cx="704.80" cy="1618.60" r="1.4"/><circle cx="712.40" cy="1618.60" r="1.4"/><circle cx="720.00" cy="1618.60" r="1.4"/><circle cx="727.60" cy="1618.60" r="1.4"/><circle cx="735.20" cy="1618.60" r="1.4"/><circle cx="742.80" cy="1618.60" r="1.4"/><circle cx="750.40" cy="1618.60" r="1.4"/><circle cx="758.00" cy="1618.60" r="1.4"/><circle cx="765.60" cy="1618.60" r="1.4"/><circle cx="773.20" cy="1618.60" r="1.4"/><circle cx="780.80" cy="1618.60" r="1.4"/><circle cx="788.40" cy="1618.60" r="1.4"/><circle cx="796.00" cy="1618.60" r="1.4"/><circle cx="803.60" cy="1618.60" r="1.4"/><circle cx="811.20" cy="1618.60" r="1.4"/><circle cx="818.80" cy="1618.60" r="1.4"/><circle cx="826.40" cy="1618.60" r="1.4"/><circle cx="834.00" cy="1618.60" r="1.4"/><circle cx="841.60" cy="1618.60" r="1.4"/><circle cx="849.20" cy="1618.60" r="1.4"/></g>
<line x1="605.8" y1="1355.0" x2="605.8" y2="1707.1999999999998" stroke="#000" stroke-width="2.2" />
<line x1="594.8" y1="1356.1" x2="605.8" y2="1356.1" stroke="#000" stroke-width="2.2" />
<text transform="translate(591.10,1363.40) scale(1,1.08)" font-size="21" font-weight="normal" font-style="normal" text-anchor="end" >150</text>
<line x1="594.8" y1="1443.6" x2="605.8" y2="1443.6" stroke="#000" stroke-width="2.2" />
<text transform="translate(591.10,1450.90) scale(1,1.08)" font-size="21" font-weight="normal" font-style="normal" text-anchor="end" >100</text>
<line x1="594.8" y1="1531.1" x2="605.8" y2="1531.1" stroke="#000" stroke-width="2.2" />
<text transform="translate(591.10,1538.40) scale(1,1.08)" font-size="21" font-weight="normal" font-style="normal" text-anchor="end" >50</text>
<line x1="594.8" y1="1618.6" x2="605.8" y2="1618.6" stroke="#000" stroke-width="2.2" />
<text transform="translate(591.10,1625.90) scale(1,1.08)" font-size="21" font-weight="normal" font-style="normal" text-anchor="end" >0</text>
<line x1="594.8" y1="1706.1" x2="605.8" y2="1706.1" stroke="#000" stroke-width="2.2" />
<text transform="translate(591.10,1713.40) scale(1,1.08)" font-size="21" font-weight="normal" font-style="normal" text-anchor="end" >-50</text>
<g transform="translate(542.7,1612.7) rotate(-90)">
<text x="0" y="0" font-size="27">Inhibition</text>
<text x="124" y="0" font-size="27">(%)</text>
</g>
<line x1="630.0" y1="1731" x2="856.0" y2="1731" stroke="#000" stroke-width="2.2" />
<line x1="630.7" y1="1731" x2="630.7" y2="1741.5" stroke="#000" stroke-width="2.2" />
<line x1="675.6" y1="1731" x2="675.6" y2="1741.5" stroke="#000" stroke-width="2.2" />
<line x1="720.5" y1="1731" x2="720.5" y2="1741.5" stroke="#000" stroke-width="2.2" />
<line x1="765.4" y1="1731" x2="765.4" y2="1741.5" stroke="#000" stroke-width="2.2" />
<line x1="810.3" y1="1731" x2="810.3" y2="1741.5" stroke="#000" stroke-width="2.2" />
<line x1="855.2" y1="1731" x2="855.2" y2="1741.5" stroke="#000" stroke-width="2.2" />
<text transform="translate(630.70,1763.50) scale(1,1.08)" font-size="20" font-weight="normal" font-style="normal" text-anchor="middle" >-1.0</text>
<text transform="translate(675.60,1763.50) scale(1,1.08)" font-size="20" font-weight="normal" font-style="normal" text-anchor="middle" >-0.5</text>
<text transform="translate(720.50,1763.50) scale(1,1.08)" font-size="20" font-weight="normal" font-style="normal" text-anchor="middle" >0.0</text>
<text transform="translate(765.40,1763.50) scale(1,1.08)" font-size="20" font-weight="normal" font-style="normal" text-anchor="middle" >0.5</text>
<text transform="translate(810.30,1763.50) scale(1,1.08)" font-size="20" font-weight="normal" font-style="normal" text-anchor="middle" >1.0</text>
<text transform="translate(855.20,1763.50) scale(1,1.08)" font-size="20" font-weight="normal" font-style="normal" text-anchor="middle" >1.5</text>
<text x="743" y="1799.5" font-size="27.5" font-weight="normal" font-style="normal" text-anchor="middle" >log(sample : calibrator)</text>
<text transform="translate(804.50,1681.60) scale(1,1.08)" font-size="28.5" style="white-space:pre">r<tspan font-size="22" dy="-13">2</tspan><tspan dy="13"> = 0.3759</tspan></text>
<text transform="translate(805.00,1715.70) scale(1,1.08)" font-size="28.5" textLength="131.8">p &lt; 0.0001</text>
<line x1="666.2" y1="1597.9" x2="823.3" y2="1457.6097000000002" stroke="#6e6e6e" stroke-width="2.0" />
<g fill="#5a5a5a"><circle cx="666.00" cy="1574.10" r="1.1"/><circle cx="672.30" cy="1569.85" r="1.1"/><circle cx="678.59" cy="1565.58" r="1.1"/><circle cx="684.87" cy="1561.30" r="1.1"/><circle cx="691.14" cy="1557.01" r="1.1"/><circle cx="697.41" cy="1552.71" r="1.1"/><circle cx="703.66" cy="1548.39" r="1.1"/><circle cx="709.89" cy="1544.04" r="1.1"/><circle cx="716.10" cy="1539.66" r="1.1"/><circle cx="722.29" cy="1535.25" r="1.1"/><circle cx="728.44" cy="1530.79" r="1.1"/><circle cx="734.55" cy="1526.27" r="1.1"/><circle cx="740.61" cy="1521.68" r="1.1"/><circle cx="746.59" cy="1516.99" r="1.1"/><circle cx="752.50" cy="1512.20" r="1.1"/><circle cx="758.30" cy="1507.30" r="1.1"/><circle cx="764.00" cy="1502.28" r="1.1"/><circle cx="769.60" cy="1497.14" r="1.1"/><circle cx="775.11" cy="1491.90" r="1.1"/><circle cx="780.53" cy="1486.57" r="1.1"/><circle cx="785.89" cy="1481.18" r="1.1"/><circle cx="791.19" cy="1475.73" r="1.1"/><circle cx="796.44" cy="1470.24" r="1.1"/><circle cx="801.66" cy="1464.72" r="1.1"/><circle cx="806.86" cy="1459.17" r="1.1"/><circle cx="812.03" cy="1453.61" r="1.1"/><circle cx="817.18" cy="1448.02" r="1.1"/><circle cx="822.32" cy="1442.42" r="1.1"/></g>
<g fill="#5a5a5a"><circle cx="666.00" cy="1622.05" r="1.1"/><circle cx="671.09" cy="1616.41" r="1.1"/><circle cx="676.18" cy="1610.76" r="1.1"/><circle cx="681.27" cy="1605.13" r="1.1"/><circle cx="686.37" cy="1599.49" r="1.1"/><circle cx="691.48" cy="1593.86" r="1.1"/><circle cx="696.60" cy="1588.24" r="1.1"/><circle cx="701.72" cy="1582.63" r="1.1"/><circle cx="706.86" cy="1577.03" r="1.1"/><circle cx="712.00" cy="1571.44" r="1.1"/><circle cx="717.17" cy="1565.86" r="1.1"/><circle cx="722.35" cy="1560.30" r="1.1"/><circle cx="727.56" cy="1554.77" r="1.1"/><circle cx="732.81" cy="1549.27" r="1.1"/><circle cx="738.09" cy="1543.80" r="1.1"/><circle cx="743.42" cy="1538.39" r="1.1"/><circle cx="748.82" cy="1533.04" r="1.1"/><circle cx="754.29" cy="1527.76" r="1.1"/><circle cx="759.85" cy="1522.58" r="1.1"/><circle cx="765.51" cy="1517.52" r="1.1"/><circle cx="771.28" cy="1512.57" r="1.1"/><circle cx="777.15" cy="1507.73" r="1.1"/><circle cx="783.10" cy="1503.01" r="1.1"/><circle cx="789.13" cy="1498.39" r="1.1"/><circle cx="795.22" cy="1493.84" r="1.1"/><circle cx="801.36" cy="1489.36" r="1.1"/><circle cx="807.54" cy="1484.93" r="1.1"/><circle cx="813.74" cy="1480.54" r="1.1"/><circle cx="819.97" cy="1476.18" r="1.1"/></g>
<circle cx="796.2" cy="1430" r="5.2" fill="#0000f6"/>
<circle cx="741.5" cy="1444.5" r="5.2" fill="#0000f6"/>
<circle cx="755.3" cy="1446.3" r="5.2" fill="#0000f6"/>
<circle cx="775.6" cy="1443" r="5.2" fill="#0000f6"/>
<circle cx="801.6" cy="1446" r="5.2" fill="#0000f6"/>
<circle cx="809.6" cy="1446.5" r="5.2" fill="#0000f6"/>
<circle cx="802.4" cy="1455.2" r="5.2" fill="#0000f6"/>
<circle cx="727.3" cy="1464.5" r="5.2" fill="#0000f6"/>
<circle cx="771.2" cy="1464.1" r="5.2" fill="#0000f6"/>
<circle cx="784.7" cy="1461.2" r="5.2" fill="#0000f6"/>
<circle cx="789.8" cy="1458.2" r="5.2" fill="#0000f6"/>
<circle cx="794.9" cy="1461.2" r="5.2" fill="#0000f6"/>
<circle cx="800" cy="1463.7" r="5.2" fill="#0000f6"/>
<circle cx="805.4" cy="1464.1" r="5.2" fill="#0000f6"/>
<circle cx="792.3" cy="1465.4" r="5.2" fill="#0000f6"/>
<circle cx="783.9" cy="1468.8" r="5.2" fill="#0000f6"/>
<circle cx="757.7" cy="1472" r="5.2" fill="#0000f6"/>
<circle cx="758" cy="1473" r="5.2" fill="#0000f6"/>
<circle cx="763.5" cy="1473.9" r="5.2" fill="#0000f6"/>
<circle cx="761" cy="1479" r="5.2" fill="#0000f6"/>
<circle cx="769.5" cy="1474.7" r="5.2" fill="#0000f6"/>
<circle cx="775.4" cy="1473.9" r="5.2" fill="#0000f6"/>
<circle cx="780.5" cy="1476.4" r="5.2" fill="#0000f6"/>
<circle cx="769.5" cy="1480.6" r="5.2" fill="#0000f6"/>
<circle cx="779.6" cy="1484.9" r="5.2" fill="#0000f6"/>
<circle cx="726" cy="1478.8" r="5.2" fill="#0000f6"/>
<circle cx="735.5" cy="1479.8" r="5.2" fill="#0000f6"/>
<circle cx="746" cy="1475.8" r="5.2" fill="#0000f6"/>
<circle cx="723.4" cy="1492.3" r="5.2" fill="#0000f6"/>
<circle cx="740" cy="1491.5" r="5.2" fill="#0000f6"/>
<circle cx="747.6" cy="1490.6" r="5.2" fill="#0000f6"/>
<circle cx="743.3" cy="1494.4" r="5.2" fill="#0000f6"/>
<circle cx="762.8" cy="1490.6" r="5.2" fill="#0000f6"/>
<circle cx="764" cy="1498.6" r="5.2" fill="#0000f6"/>
<circle cx="769.8" cy="1502.1" r="5.2" fill="#0000f6"/>
<circle cx="777.9" cy="1498.6" r="5.2" fill="#0000f6"/>
<circle cx="784.9" cy="1495.1" r="5.2" fill="#0000f6"/>
<circle cx="788.4" cy="1491.6" r="5.2" fill="#0000f6"/>
<circle cx="795.4" cy="1494" r="5.2" fill="#0000f6"/>
<circle cx="801.2" cy="1502.1" r="5.2" fill="#0000f6"/>
<circle cx="779.7" cy="1485.2" r="5.2" fill="#0000f6"/>
<circle cx="732.9" cy="1506.3" r="5.2" fill="#0000f6"/>
<circle cx="759.4" cy="1515.2" r="5.2" fill="#0000f6"/>
<circle cx="776.5" cy="1511.2" r="5.2" fill="#0000f6"/>
<circle cx="796" cy="1514.9" r="5.2" fill="#0000f6"/>
<circle cx="801.2" cy="1514.3" r="5.2" fill="#0000f6"/>
<circle cx="779.7" cy="1526.6" r="5.2" fill="#0000f6"/>
<circle cx="783.8" cy="1537" r="5.2" fill="#0000f6"/>
<circle cx="796" cy="1537.6" r="5.2" fill="#0000f6"/>
<circle cx="801.2" cy="1536.5" r="5.2" fill="#0000f6"/>
<circle cx="713" cy="1531" r="5.2" fill="#0000f6"/>
<circle cx="736" cy="1527.8" r="5.2" fill="#0000f6"/>
<circle cx="739.4" cy="1531.9" r="5.2" fill="#0000f6"/>
<circle cx="744.9" cy="1530.5" r="5.2" fill="#0000f6"/>
<circle cx="711.2" cy="1546.4" r="5.2" fill="#0000f6"/>
<circle cx="740.4" cy="1545.5" r="5.2" fill="#0000f6"/>
<circle cx="735" cy="1548.5" r="5.2" fill="#0000f6"/>
<circle cx="730.6" cy="1557.8" r="5.2" fill="#0000f6"/>
<circle cx="738.2" cy="1556.1" r="5.2" fill="#0000f6"/>
<circle cx="767.9" cy="1547.4" r="5.2" fill="#0000f6"/>
<circle cx="763.9" cy="1560.1" r="5.2" fill="#0000f6"/>
<circle cx="769.9" cy="1561" r="5.2" fill="#0000f6"/>
<circle cx="708.6" cy="1558.6" r="5.2" fill="#0000f6"/>
<circle cx="696.7" cy="1573" r="5.2" fill="#0000f6"/>
<circle cx="719.6" cy="1566.6" r="5.2" fill="#0000f6"/>
<circle cx="742.4" cy="1571" r="5.2" fill="#0000f6"/>
<circle cx="736.2" cy="1583.2" r="5.2" fill="#0000f6"/>
<circle cx="719.6" cy="1610.3" r="5.2" fill="#0000f6"/>
<circle cx="752.6" cy="1612.8" r="5.2" fill="#0000f6"/>
<circle cx="725.5" cy="1634" r="5.2" fill="#0000f6"/>
<circle cx="786" cy="1587.5" r="5.2" fill="#0000f6"/>
<circle cx="796" cy="1585.5" r="5.2" fill="#0000f6"/>
<circle cx="796" cy="1576.5" r="5.2" fill="#0000f6"/>
<circle cx="747.2" cy="1419" r="5.2" fill="#ff0000"/>
<circle cx="796.1" cy="1451" r="5.2" fill="#ff0000"/>
<circle cx="810.7" cy="1454.5" r="5.2" fill="#ff0000"/>
<circle cx="801.2" cy="1482.5" r="5.2" fill="#ff0000"/>
<circle cx="801.2" cy="1487" r="5.2" fill="#ff0000"/>
<circle cx="823.8" cy="1484" r="5.2" fill="#ff0000"/>
<circle cx="801.2" cy="1498" r="5.2" fill="#ff0000"/>
<circle cx="801.2" cy="1507.9" r="5.2" fill="#ff0000"/>
<circle cx="801.2" cy="1530" r="5.2" fill="#ff0000"/>
<circle cx="683.7" cy="1590" r="5.2" fill="#000000"/>
<circle cx="698.9" cy="1586.6" r="5.2" fill="#000000"/>
<circle cx="680.6" cy="1596.7" r="5.2" fill="#000000"/>
<circle cx="696.7" cy="1606.4" r="5.2" fill="#000000"/>
<circle cx="689.1" cy="1612" r="5.2" fill="#000000"/>
<circle cx="695.5" cy="1614.5" r="5.2" fill="#000000"/>
<circle cx="666.2" cy="1632.3" r="5.2" fill="#000000"/>
<circle cx="682.7" cy="1647.2" r="5.2" fill="#000000"/>
</svg>
</body></html>
